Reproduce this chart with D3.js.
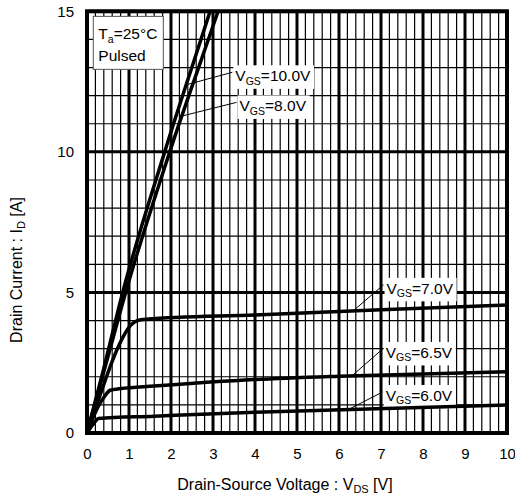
<!DOCTYPE html>
<html>
<head>
    <meta charset="utf-8">
    <title>Drain current vs drain-source voltage</title>
    <script src="https://cdn.jsdelivr.net/npm/d3@7"></script>
    <style>
        body { margin: 0; background: #fff; }
        text { font-family: "Liberation Sans", Arial, sans-serif; fill: #000; }
    </style>
</head>
<body>
<script>
    // curves: [V_DS, I_D]
    var vgs10 = [[0, 0], [0.4, 2.3], [0.85, 5], [1.85, 10], [2.93, 15], [3.1, 15.8]];
    var vgs8 = [[0, 0], [0.45, 2.45], [0.92, 5], [1.97, 10], [3.12, 15], [3.3, 15.8]];
    var vgs7 = [[0, 0], [0.3, 1.3], [0.5, 2.15], [0.71, 2.95], [0.91, 3.55], [1.05, 3.85], [1.2, 4.0], [1.4, 4.05], [4, 4.2], [7, 4.38], [10, 4.55]];
    var vgs65 = [[0, 0], [0.27, 0.95], [0.44, 1.35], [0.55, 1.52], [0.8, 1.58], [1.6, 1.67], [4, 1.9], [6, 2.02], [10, 2.18]];
    var vgs6 = [[0, 0], [0.1, 0.22], [0.19, 0.4], [0.27, 0.52], [1.6, 0.6], [4, 0.74], [10, 1.0]];

    var xTicks = [0, 1, 2, 3, 4, 5, 6, 7, 8, 9, 10];
    var yTicks = [0, 5, 10, 15];

    // label name, leader start [V, I], leader end [V, I]
    var labelNames = ['10.0V', '8.0V', '7.0V', '6.5V', '6.0V'];
    var labelFrom = [[3.46, 12.83], [3.56, 11.76], [7.06, 5.27], [7.04, 2.99], [7.04, 1.46]];
    var labelTo = [[2.4, 12.4], [2.22, 11.26], [6.35, 4.36], [6.32, 2.05], [6.23, 0.84]];

    var width = 515, height = 500;
    var margin = {top: 11.3, right: 8, bottom: 67, left: 87};
    var w = width - margin.left - margin.right, h = height - margin.top - margin.bottom;

    var svg = d3.select('body').append('svg').attr('width', width).attr('height', height);
    var g = svg.append('g').attr('transform', 'translate(' + margin.left + ',' + margin.top + ')');

    var x = d3.scaleLinear().domain([0, 10]).range([0, w]);
    var y = d3.scaleLinear().domain([0, 15]).range([h, 0]);

    g.append('clipPath').attr('id', 'plot').append('rect').attr('width', w).attr('height', h);

    // grid
    var vMinor = d3.range(0, 50).map(function (i) { return i * 0.2; });
    g.selectAll('.vgrid').data(vMinor).enter().append('line')
        .attr('x1', function (d) { return x(d); })
        .attr('x2', function (d) { return x(d); })
        .attr('y1', 0).attr('y2', h)
        .attr('stroke', '#000')
        .attr('stroke-width', function (d, i) { return i % 5 === 0 ? 3 : 1.2; });

    g.selectAll('.hgrid').data(d3.range(0, 16)).enter().append('line')
        .attr('x1', 0).attr('x2', w)
        .attr('y1', function (d) { return y(d); })
        .attr('y2', function (d) { return y(d); })
        .attr('stroke', '#000')
        .attr('stroke-width', function (d) { return d % 5 === 0 ? 3 : 1.2; });

    // Ta box
    var box = g.append('g');
    box.append('rect').attr('x', x(0.15)).attr('y', y(14.82)).attr('width', 70).attr('height', 53)
        .attr('fill', '#fff').attr('stroke', '#555').attr('stroke-width', 1);
    var t1 = box.append('text').attr('x', x(0.27)).attr('y', y(14.0)).attr('font-size', 15.5);
    t1.append('tspan').text('T');
    t1.append('tspan').attr('font-size', 10.5).attr('dy', 4).text('a');
    t1.append('tspan').attr('dy', -4).text('=25°C');
    box.append('text').attr('x', x(0.27)).attr('y', y(13.23)).attr('font-size', 15.5).text('Pulsed');

    // label backgrounds + leaders
    var labels = g.append('g');
    labelNames.forEach(function (name, i) {
        var x0 = x(labelFrom[i][0]), y0 = y(labelFrom[i][1]);
        var t = labels.append('text').attr('x', x0 + 3).attr('y', y0 + 9).attr('font-size', 15.5);
        t.append('tspan').text('V');
        t.append('tspan').attr('font-size', 10.5).attr('dy', 3.5).text('GS');
        t.append('tspan').attr('dy', -3.5).text('=' + name);
        var bb = t.node().getBBox();
        labels.insert('rect', 'text').attr('x', bb.x - 2).attr('y', bb.y - 2)
            .attr('width', bb.width + 5).attr('height', bb.height + 4).attr('fill', '#fff');
        labels.append('line')
            .attr('x1', x0).attr('y1', y0)
            .attr('x2', x(labelTo[i][0])).attr('y2', y(labelTo[i][1]))
            .attr('stroke', '#000').attr('stroke-width', 1);
    });

    // curves
    var line = d3.line()
        .x(function (d) { return x(d[0]); })
        .y(function (d) { return y(d[1]); })
        .curve(d3.curveMonotoneX);

    g.append('g').attr('clip-path', 'url(#plot)')
        .selectAll('path').data([vgs10, vgs8, vgs7, vgs65, vgs6]).enter().append('path')
        .attr('d', line)
        .attr('fill', 'none')
        .attr('stroke', '#000')
        .attr('stroke-width', 3.5)
        .attr('stroke-linejoin', 'round');

    // frame
    g.append('rect').attr('width', w).attr('height', h)
        .attr('fill', 'none').attr('stroke', '#000').attr('stroke-width', 4);

    // axes
    var xAxis = d3.axisBottom(x).tickValues(xTicks).tickSize(0).tickPadding(15);
    var xg = g.append('g').attr('transform', 'translate(0,' + h + ')').call(xAxis);
    var yAxis = d3.axisLeft(y).tickValues(yTicks).tickSize(0).tickPadding(13);
    var yg = g.append('g').call(yAxis);
    [xg, yg].forEach(function (a) {
        a.select('.domain').remove();
        a.selectAll('text').attr('font-size', 15).attr('font-family', '"Liberation Sans", Arial, sans-serif');
    });

    var xt = svg.append('text').attr('x', 285).attr('y', 490).attr('text-anchor', 'middle').attr('font-size', 16);
    xt.append('tspan').text('Drain-Source Voltage : V');
    xt.append('tspan').attr('font-size', 11).attr('dy', 3).text('DS');
    xt.append('tspan').attr('dy', -3).text(' [V]');

    var yt = svg.append('text').attr('transform', 'translate(22,270) rotate(-90)')
        .attr('text-anchor', 'middle').attr('font-size', 16);
    yt.append('tspan').text('Drain Current : I');
    yt.append('tspan').attr('font-size', 11).attr('dy', 3).text('D');
    yt.append('tspan').attr('dy', -3).text(' [A]');
</script>
</body>
</html>
